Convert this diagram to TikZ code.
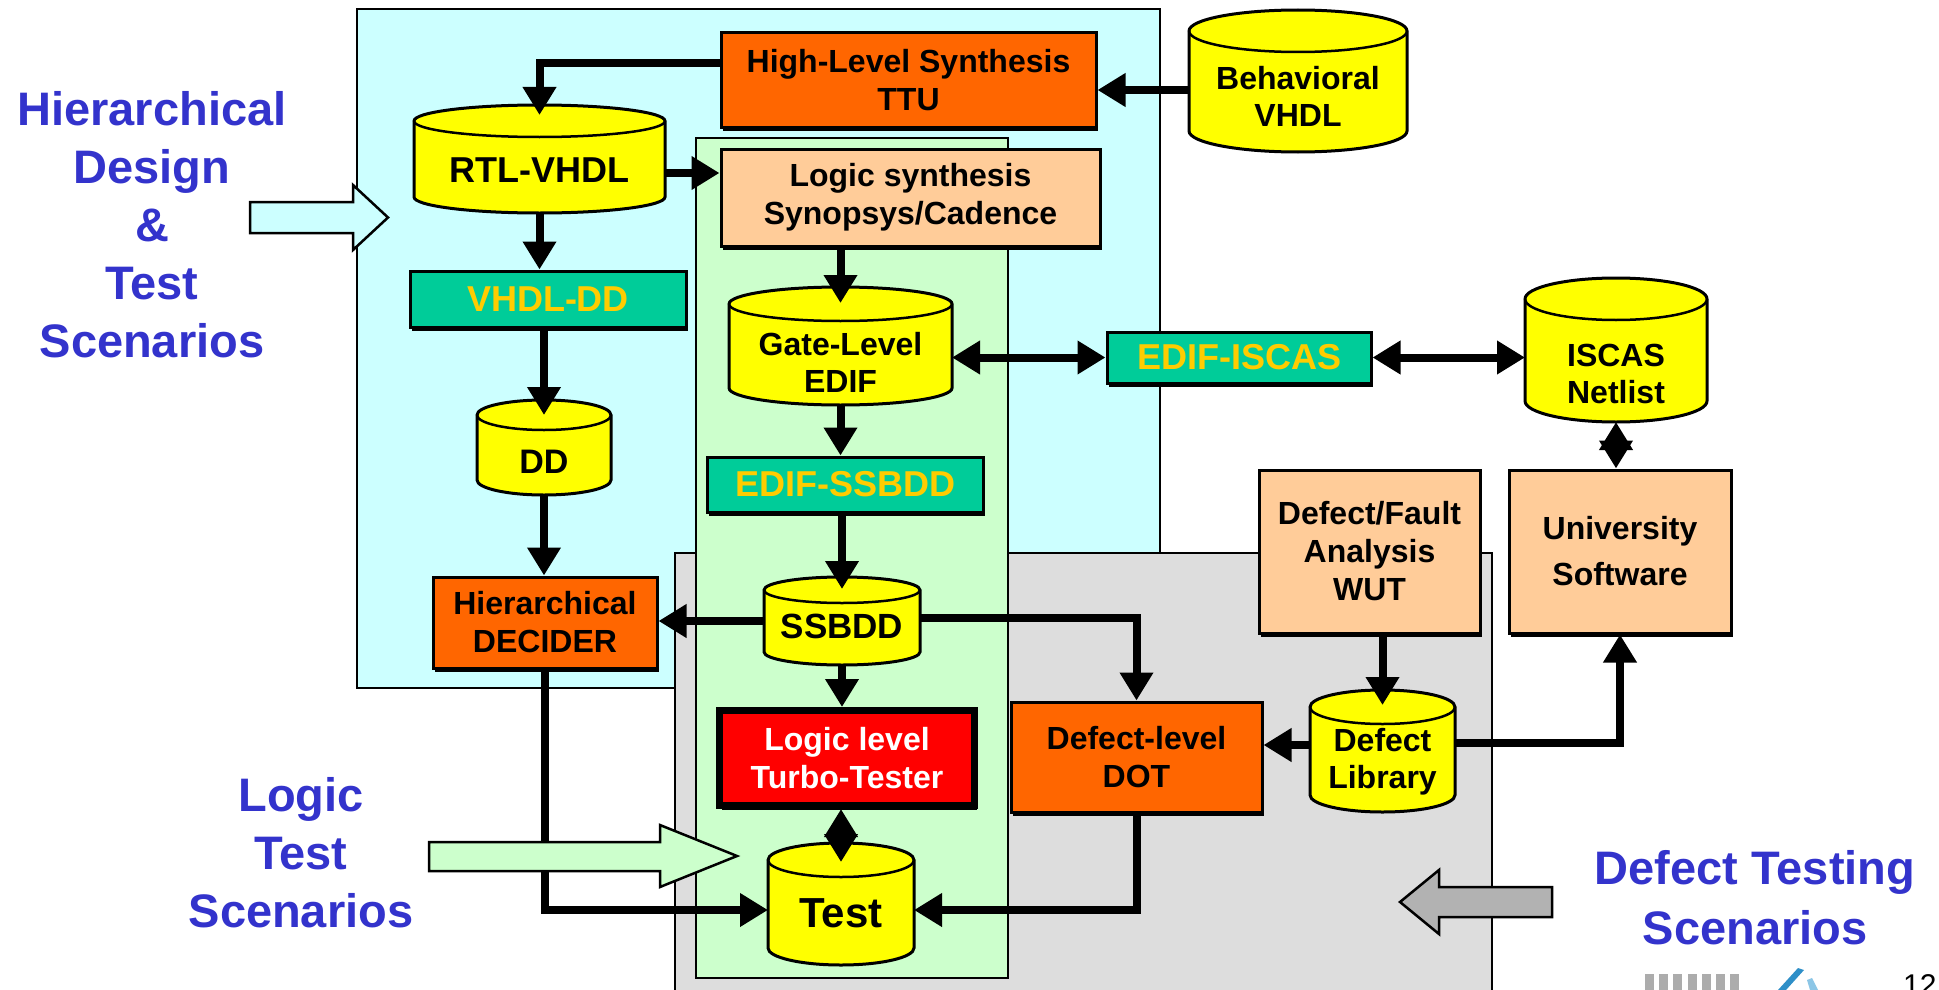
\documentclass[tikz,border=0pt]{standalone}
\usepackage{fontspec}
\setmainfont{Liberation Sans}
\usetikzlibrary{arrows.meta,shadows,fit}

\definecolor{cyanbg}{HTML}{CCFFFF}
\definecolor{greenbg}{HTML}{CCFFCC}
\definecolor{graybg}{HTML}{DDDDDD}
\definecolor{orangebx}{HTML}{FF6600}
\definecolor{peachbx}{HTML}{FFCC99}
\definecolor{tealbx}{HTML}{00CC99}
\definecolor{goldtxt}{HTML}{FFCC00}
\definecolor{dbyellow}{HTML}{FFFF00}
\definecolor{redbx}{HTML}{FF0000}
\definecolor{scenblue}{HTML}{3333CC}
\definecolor{arrowgray}{HTML}{B2B2B2}
\definecolor{logoblue}{HTML}{2E8FC8}
\definecolor{logolight}{HTML}{8CC6E6}

% database cylinder: name, x1, y1, x2, y2 (y downwards), rim radius, text centre y, text
\newcommand\dbcyl[8]{%
  \path[dbbody] (#2,-#3-#6) -- (#2,-#5+#6)
    arc[start angle=180,end angle=360,x radius={(#4-#2)/2},y radius=#6]
    -- (#4,-#3-#6)
    arc[start angle=0,end angle=180,x radius={(#4-#2)/2},y radius=#6] -- cycle;
  \draw[dbrim] (#2,-#3-#6)
    arc[start angle=180,end angle=360,x radius={(#4-#2)/2},y radius=#6];
  \node[dbframe, fit={(#2,-#3) (#4,-#5)}] (#1) {};
  \node[dbtext] (#1-t) at ({(#2+#4)/2},-#7) {#8};
}

\begin{document}
\begin{tikzpicture}[x=1pt,y=1pt,
  procbox/.style={draw, line width=3pt, inner sep=0pt, align=center,
    font=\bfseries\fontsize{32}{38}\selectfont,
    drop shadow={shadow xshift=2pt,shadow yshift=-4pt,fill=black,opacity=1}},
  orangebox/.style={procbox, fill=orangebx},
  peachbox/.style={procbox, fill=peachbx},
  tealbox/.style={procbox, fill=tealbx, text=goldtxt,
    font=\bfseries\fontsize{36}{40}\selectfont},
  redbox/.style={procbox, fill=redbx, text=white, line width=7pt},
  dbbody/.style={fill=dbyellow, draw, line width=3pt},
  dbrim/.style={draw, line width=2.5pt},
  dbframe/.style={inner sep=0pt, outer sep=0pt},
  dbtext/.style={inner sep=0pt, align=center,
    font=\bfseries\fontsize{32}{37}\selectfont},
  conn/.style={line width=8pt, -{Triangle[length=28pt,width=32pt]}},
  biconn/.style={line width=8pt,
    {Triangle[length=28pt,width=32pt]}-{Triangle[length=28pt,width=32pt]}},
  blockarrow/.style={draw, line width=2.5pt, line join=miter},
  scen/.style={text=scenblue, align=center, inner sep=0pt,
    font=\bfseries\fontsize{47}{58}\selectfont},
]
\useasboundingbox (0,0) rectangle (1939,-990);
\clip (0,0) rectangle (1939,-990);
\fill[white] (0,0) rectangle (1939,-990);

% tool-flow regions
\draw[fill=cyanbg, line width=2pt] (357,-9) rectangle (1160,-688);
\draw[fill=graybg, line width=2pt] (675,-553) rectangle (1492,-1010);
\draw[fill=greenbg, line width=2pt] (696,-138) rectangle (1008,-978);

% process boxes
\node[orangebox, minimum width=375pt, minimum height=94pt] (hls) at (908.5,-80)
  {High-Level Synthesis\\TTU};
\node[peachbox, minimum width=379pt, minimum height=97pt] (ls) at (910.5,-197.5)
  {Logic synthesis\\Synopsys/Cadence};
\node[tealbox, minimum width=276pt, minimum height=56pt] (vhdldd) at (548,-299) {VHDL-DD};
\node[orangebox, minimum width=224pt, minimum height=91pt] (decider) at (545,-622.5)
  {Hierarchical\\DECIDER};
\node[tealbox, minimum width=276pt, minimum height=55pt] (edifssbdd) at (845,-484.5)
  {EDIF-SSBDD};
\node[redbox, minimum width=255pt, minimum height=95pt] (turbo) at (847,-758)
  {Logic level\\Turbo-Tester};
\node[orangebox, minimum width=251pt, minimum height=110pt] (dot) at (1136.5,-757)
  {Defect-level\\DOT};
\node[peachbox, minimum width=221pt, minimum height=163pt] (dfa) at (1369.5,-551.5)
  {Defect/Fault\\Analysis\\WUT};
\node[peachbox, minimum width=222pt, minimum height=163pt,
  font=\bfseries\fontsize{32}{46}\selectfont] (univ) at (1620,-551.5) {University\\Software};
\node[tealbox, minimum width=264pt, minimum height=51pt] (edifiscas) at (1239,-357.5)
  {EDIF-ISCAS};

% data bases
\dbcyl{behav}{1189}{10}{1407}{152}{21}{96}{Behavioral\\VHDL}
\dbcyl{rtl}{414}{105}{665}{213}{16}{170}{\fontsize{36}{40}\selectfont RTL-VHDL}
\dbcyl{dd}{477}{400}{611}{495}{15}{462}{\fontsize{34}{40}\selectfont DD}
\dbcyl{gate}{729}{287}{952}{405}{17}{362}{Gate-Level\\EDIF}
\dbcyl{ssbdd}{764}{577}{920}{665}{13}{626}{\fontsize{35}{40}\selectfont SSBDD}
\dbcyl{test}{768}{843}{914}{965}{17}{913}{\fontsize{42}{46}\selectfont Test}
\dbcyl{deflib}{1310}{690}{1455}{812}{17}{762}{Defect\\Library}
\dbcyl{iscas}{1525}{278}{1707}{422}{21}{374}{ISCAS\\Netlist}

% connectors
\coordinate (hlsout) at ([yshift=17pt]hls.west);
\draw[conn] (hlsout) -| ([yshift=-10pt]rtl.north);
\coordinate (hlsin) at ([yshift=-10pt]hls.east);
\draw[conn] (behav.west |- hlsin) -- (hlsin);
\coordinate (lsin) at ([yshift=24.5pt]ls.west);
\draw[conn] (rtl.east |- lsin) -- (lsin);
\draw[conn] (rtl.south) -- (rtl.south |- vhdldd.north);
\draw[conn] (dd.north |- vhdldd.south) -- ([yshift=-15pt]dd.north);
\draw[conn] (dd.south) -- (dd.south |- decider.north);
\draw[conn] (gate.north |- ls.south) -- ([yshift=-16pt]gate.north);
\draw[conn] (gate.south) -- (gate.south |- edifssbdd.north);
\draw[conn] (ssbdd.north |- edifssbdd.south) -- ([yshift=-12pt]ssbdd.north);
\draw[biconn] (gate.east |- edifiscas.west) -- (edifiscas.west);
\draw[biconn] (edifiscas.east) -- (edifiscas.east -| iscas.west);
\draw[biconn] (iscas.south) -- (iscas.south |- univ.north);
\draw[conn] (ssbdd.west) -- (ssbdd.west -| decider.east);
\draw[conn] ([yshift=3pt]ssbdd.east) -| (dot.north);
\draw[conn] (ssbdd.south) -- (ssbdd.south |- turbo.north);
\draw[biconn] (test.north |- turbo.south) -- ([yshift=-19pt]test.north);
\coordinate (testinl) at ([yshift=-6pt]test.west);
\coordinate (testinr) at ([yshift=-6pt]test.east);
\draw[conn] (decider.south) |- (testinl);
\draw[conn] (dot.south) |- (testinr);
\coordinate (dotin) at ([yshift=12pt]dot.east);
\draw[conn] (deflib.west |- dotin) -- (dotin);
\draw[conn] (deflib.north |- dfa.south) -- ([yshift=-15pt]deflib.north);
\draw[conn] ([yshift=8pt]deflib.east) -| (univ.south);

% scenario block arrows
\path[blockarrow, fill=cyanbg] (250,-202) -- (353,-202) -- (353,-185) -- (388,-217.5)
  -- (353,-250) -- (353,-233) -- (250,-233) -- cycle;
\path[blockarrow, fill=greenbg] (429,-842) -- (660,-842) -- (660,-825) -- (737,-856)
  -- (660,-887) -- (660,-871) -- (429,-871) -- cycle;
\path[blockarrow, fill=arrowgray] (1552,-887) -- (1439,-887) -- (1439,-870) -- (1400,-902)
  -- (1439,-934) -- (1439,-917) -- (1552,-917) -- cycle;

% scenario captions
\node[scen, anchor=north] (hdts) at (152,-91) {Hierarchical\\Design\\\&\\Test\\Scenarios};
\node[scen, anchor=north] (lts) at (301,-777) {Logic\\Test\\Scenarios};
\node[scen, anchor=north, font=\bfseries\fontsize{47}{60}\selectfont] (dts) at (1755,-850)
  {Defect Testing\\Scenarios};

% footer: logo strip and page number
\foreach \i in {0,...,6}
  \fill[gray!65] ({1645+\i*14.2},-974) rectangle ({1654+\i*14.2},-990);
\fill[logoblue] (1778,-990) -- (1786,-990) -- (1804,-970) -- (1798,-968) -- cycle;
\fill[logolight] (1807,-980) -- (1812,-978) -- (1818,-990) -- (1810,-990) -- cycle;
\node[anchor=base west, inner sep=0pt, font=\fontsize{30}{36}\selectfont] (pageno)
  at (1903,-995) {12};
\end{tikzpicture}
\end{document}
